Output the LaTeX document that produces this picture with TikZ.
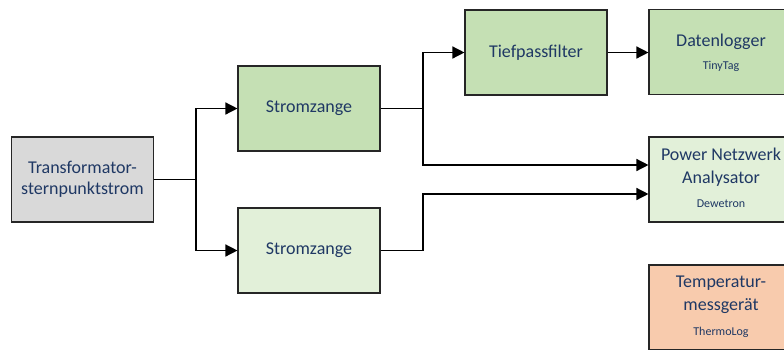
\documentclass[tikz,border=0pt]{standalone}
\usepackage{fontspec}
\setmainfont{Carlito}
\usetikzlibrary{arrows.meta,positioning}
\definecolor{txt}{HTML}{1F3864}
\definecolor{gmid}{HTML}{C5E0B4}
\definecolor{glight}{HTML}{E2F0D9}
\definecolor{gry}{HTML}{D9D9D9}
\definecolor{peach}{HTML}{F8CBAD}
\tikzset{
  box/.style={draw=black!85, line width=1.1pt, minimum width=142pt, minimum height=85pt, inner sep=0pt, text=txt, align=center, font=\fontsize{18}{21}\selectfont},
  conn/.style={line width=1.4pt, draw=black},
  arr/.style={conn, -{Triangle[length=12pt,width=12pt]}},
  sub/.style={font=\fontsize{12}{14}\selectfont}
}
\begin{document}
\begin{tikzpicture}[x=1pt,y=-1pt]
\useasboundingbox (0,0) rectangle (784,349);
\clip (0,0) rectangle (784,349);
\node[box, fill=gry] (tr) at (82.5,179.5) {Transformator-\\sternpunktstrom};
\node[box, fill=gmid] (s1) at (309,108.5) {Stromzange};
\node[box, fill=glight] (s2) at (309,250.5) {Stromzange};
\node[box, fill=gmid] (tp) at (536,52.5) {Tiefpassfilter};
\node[box, fill=gmid, minimum width=144pt] (dl) at (721,52) {};
\node[text=txt, font=\fontsize{18}{21}\selectfont] at (721,42) {Datenlogger};
\node[text=txt, sub] at (721,66) {TinyTag};
\node[box, fill=glight, minimum width=144pt] (pn) at (721,179.5) {};
\node[text=txt, align=center, font=\fontsize{18}{23}\selectfont] at (721,167) {Power Netzwerk\\Analysator};
\node[text=txt, sub] at (721,204) {Dewetron};
\node[box, fill=peach, minimum width=144pt] (tm) at (721,307.5) {};
\node[text=txt, align=center, font=\fontsize{18}{23}\selectfont] at (721,295) {Temperatur-\\messgerät};
\node[text=txt, sub] at (721,332) {ThermoLog};
\coordinate (j1) at (196,179.5);
\coordinate (j2) at (423,108.5);
\draw[conn] (tr.east) -- (j1);
\draw[arr] (j1) |- (s1.west);
\draw[arr] (j1) |- (s2.west);
\draw[conn] (s1.east) -- (j2);
\draw[arr] (j2) |- (tp.west);
\draw[arr] (j2) |- (pn.west |- 0,165);
\draw[arr] (s2.east) -| (423,194) -- (pn.west |- 0,194);
\draw[arr] (tp.east) -- (dl.west |- tp.east);
\end{tikzpicture}
\end{document}
